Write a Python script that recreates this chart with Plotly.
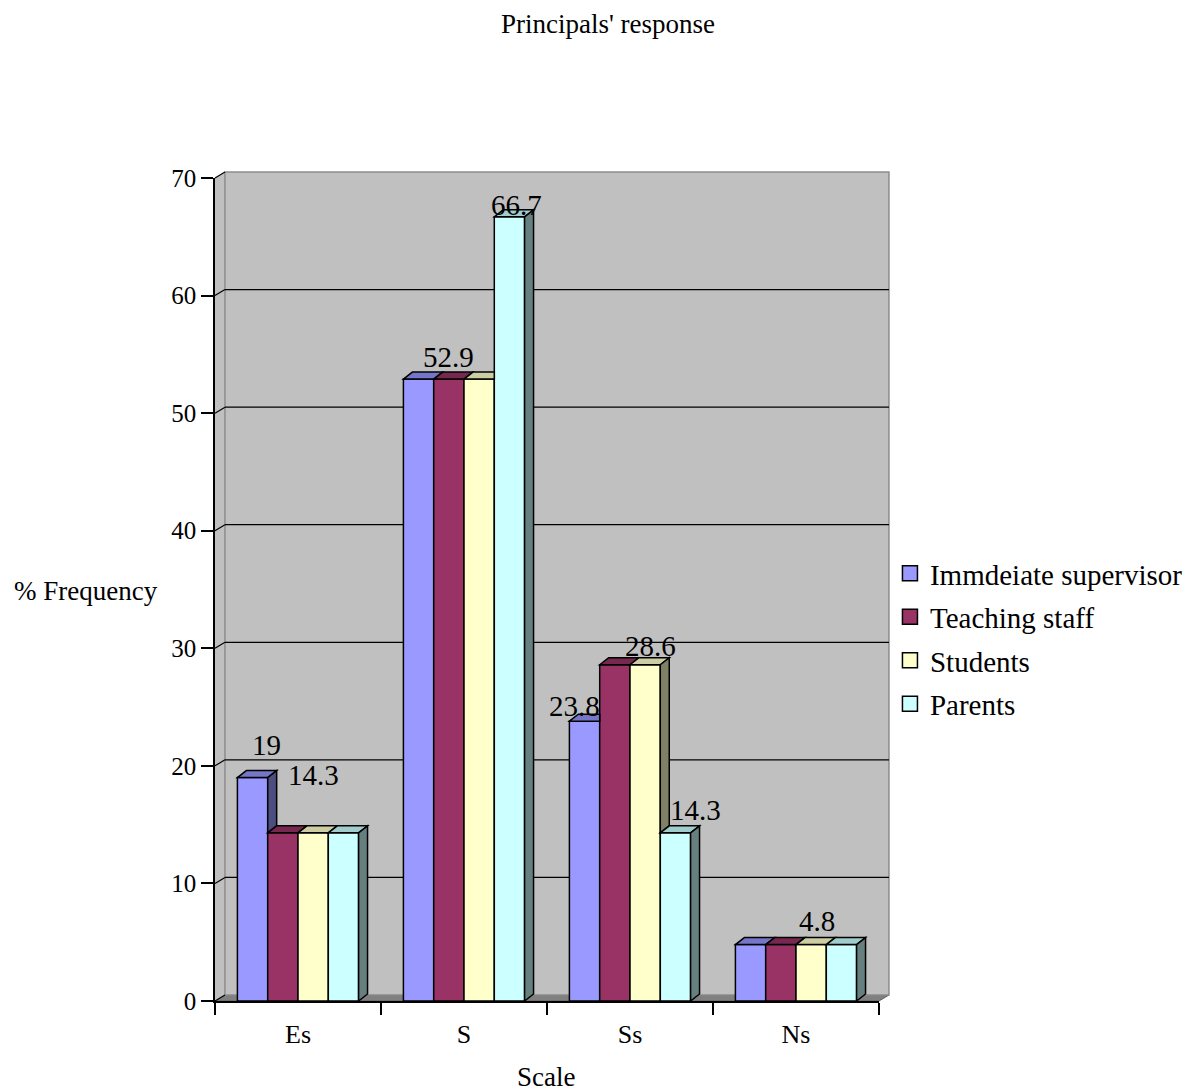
import plotly.graph_objects as go

# ---------------- data ----------------
categories = ["Es", "S", "Ss", "Ns"]
series_names = ["Immdeiate supervisor", "Teaching staff", "Students", "Parents"]
supervisor = [19, 52.9, 23.8, 4.8]
teaching_staff = [14.3, 52.9, 28.6, 4.8]
students = [14.3, 52.9, 28.6, 4.8]
parents = [14.3, 66.7, 14.3, 4.8]
y_ticks = [0, 10, 20, 30, 40, 50, 60, 70]
# which data labels are visible in the original (Excel hides overlapping ones)
label_visible = [
    [True, False, True, False],    # supervisor
    [False, True, False, False],   # teaching staff
    [True, False, True, True],     # students
    [False, True, True, False],    # parents
]

series = [supervisor, teaching_staff, students, parents]

# ---------------- styles ----------------
front_colors = ["#9999FF", "#993366", "#FFFFCC", "#CCFFFF"]
top_colors = ["#7676C8", "#76284F", "#CDCDA4", "#A0CCCC"]
side_colors = ["#4D4D80", "#4D1A33", "#808066", "#668080"]
FONT = "Liberation Serif, Times New Roman, serif"

W_PX, H_PX = 1200, 1092
L, R, T, B = 215, 882, 178, 1001
PW, PH = R - L, B - T
YMAX = 70
BARGAP = 0.27
WDX, WDY = 10, 6       # back wall depth (px)
BDX, BDY = 9, 7        # bar depth (px)

# label nudges (px) per (series, category): (dx, rise above front top)
label_nudge = {
    (0, 0): (14, 33), (2, 0): (0, 58),
    (1, 1): (0, 22), (3, 1): (7, 12),
    (0, 2): (-10, 15), (2, 2): (5, 19), (3, 2): (20, 23),
    (2, 3): (6, 24),
}

fig = go.Figure()
for k, name in enumerate(series_names):
    fig.add_trace(go.Bar(
        x=categories, y=series[k], name=name,
        marker=dict(color=front_colors[k], line=dict(color="black", width=1.5)),
        legendgroup=name, showlegend=False,
    ))
# legend proxies (larger square swatches like the original)
for k, name in enumerate(series_names):
    fig.add_trace(go.Scatter(
        x=[None], y=[None], mode="markers", name=name, legendgroup=name,
        marker=dict(symbol="square", size=15, color=front_colors[k],
                    line=dict(color="black", width=1.5)),
        hoverinfo="skip",
    ))

shapes = []
def px(xp):
    return (xp - L) / PW

def py(yp):
    return (B - yp) / PH

ox, oy = WDX / PW, WDY / PH
# floor
shapes.append(dict(type="path", xref="paper", yref="paper", layer="below",
                   path=f"M 0,0 L 1,0 L {1+ox},{oy} L {ox},{oy} Z",
                   fillcolor="#808080", line=dict(color="#606060", width=1)))
# left side wall
shapes.append(dict(type="path", xref="paper", yref="paper", layer="below",
                   path=f"M 0,0 L {ox},{oy} L {ox},{1+oy} L 0,1 Z",
                   fillcolor="#C0C0C0", line=dict(color="#C0C0C0", width=0)))
# back wall
shapes.append(dict(type="rect", xref="paper", yref="paper", layer="below",
                   x0=ox, x1=1 + ox, y0=oy, y1=1 + oy,
                   fillcolor="#C0C0C0", line=dict(color="#8C8C8C", width=1.5)))
# gridlines on the back wall + diagonal connectors on the side wall
for v in y_ticks:
    yv = v / YMAX
    if 0 < v < YMAX:
        shapes.append(dict(type="line", xref="paper", yref="paper", layer="below",
                           x0=ox, x1=1 + ox, y0=yv + oy, y1=yv + oy,
                           line=dict(color="black", width=1.2)))
    shapes.append(dict(type="line", xref="paper", yref="paper", layer="below",
                       x0=0, x1=ox, y0=yv, y1=yv + oy,
                       line=dict(color="black", width=1.2)))

# --- 3D faces of the bars (data coordinates from the same values) ---
bw = (1 - BARGAP) / 4
dx = BDX * len(categories) / PW
dy = BDY * YMAX / PH
annotations = []
for k in range(4):
    off = -0.5 * (1 - BARGAP) + (k + 0.5) * bw
    for i in range(len(categories)):
        h = series[k][i]
        xl = i + off - bw / 2
        xr = xl + bw
        nxt = series[k + 1][i] if k < 3 else None
        if nxt is not None and nxt > h:
            top = f"M {xl},{h} L {xl+dx},{h+dy} L {xr},{h+dy} L {xr},{h} Z"
        else:
            top = f"M {xl},{h} L {xl+dx},{h+dy} L {xr+dx},{h+dy} L {xr},{h} Z"
        shapes.append(dict(type="path", xref="x", yref="y", layer="above", path=top,
                           fillcolor=top_colors[k], line=dict(color="black", width=1.5)))
        base = 0 if nxt is None else nxt
        if h > base:
            side = f"M {xr},{base} L {xr},{h} L {xr+dx},{h+dy} L {xr+dx},{base+dy} Z"
            shapes.append(dict(type="path", xref="x", yref="y", layer="above", path=side,
                               fillcolor=side_colors[k], line=dict(color="black", width=1.5)))
        if label_visible[k][i]:
            nx, rise = label_nudge.get((k, i), (0, 22))
            annotations.append(dict(
                x=i + off, y=h, xref="x", yref="y", text=f"{h:g}", showarrow=False,
                xanchor="center", yanchor="middle", xshift=nx, yshift=rise,
                font=dict(family=FONT, size=29, color="black")))

# axis titles
annotations.append(dict(x=px(85), y=py(591), xref="paper", yref="paper",
                        text="% Frequency", showarrow=False, xanchor="center", yanchor="middle",
                        font=dict(family=FONT, size=27, color="black")))
annotations.append(dict(x=px(547), y=py(1077), xref="paper", yref="paper",
                        text="Scale", showarrow=False, xanchor="center", yanchor="middle",
                        font=dict(family=FONT, size=27, color="black")))

fig.update_layout(
    width=W_PX, height=H_PX,
    margin=dict(l=L, r=W_PX - R, t=T, b=H_PX - B, pad=0),
    paper_bgcolor="white", plot_bgcolor="rgba(0,0,0,0)",
    barmode="group", bargap=BARGAP, bargroupgap=0,
    title=dict(text="Principals' response", x=608 / W_PX, xref="container", xanchor="center",
               y=1 - 24 / H_PX, yref="container", yanchor="middle",
               font=dict(family=FONT, size=27, color="black")),
    font=dict(family=FONT, color="black"),
    shapes=shapes, annotations=annotations,
    showlegend=True,
    legend=dict(x=px(893), y=py(548), xanchor="left", yanchor="top",
                bgcolor="white", borderwidth=0, tracegroupgap=2.8,
                font=dict(family=FONT, size=29, color="black")),
    xaxis=dict(type="category", range=[-0.5, 3.5], showline=True, linecolor="black", linewidth=1.5,
               ticks="outside", tickson="boundaries", ticklen=12, tickwidth=1.5, tickcolor="black",
               showgrid=False, zeroline=False, ticklabelstandoff=9,
               tickfont=dict(family=FONT, size=26, color="black")),
    yaxis=dict(range=[0, YMAX], tickvals=y_ticks, showline=True, linecolor="black", linewidth=1.5,
               ticks="outside", ticklen=12, tickwidth=1.5, tickcolor="black",
               showgrid=False, zeroline=False,
               tickfont=dict(family=FONT, size=25, color="black")),
)

fig.write_html("out.html", post_script="document.body.style.margin='0';",
               config={"displayModeBar": False})
